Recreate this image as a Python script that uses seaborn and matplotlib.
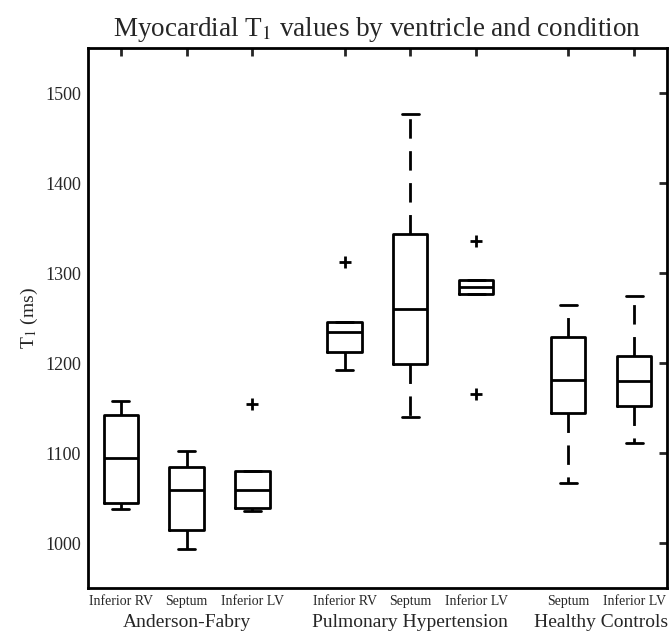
import pandas as pd
import matplotlib
matplotlib.use("Agg")
import matplotlib.pyplot as plt
import matplotlib.transforms as mtransforms
import seaborn as sns

# Conditions and the regions measured in each (plot order)
conditions = ["Anderson-Fabry", "Pulmonary Hypertension", "Healthy Controls"]
af_regions = ["Inferior RV", "Septum", "Inferior LV"]
ph_regions = ["Inferior RV", "Septum", "Inferior LV"]
hc_regions = ["Septum", "Inferior LV"]

# T1 values (ms): whisker ends, quartiles, median, outliers
af_inferior_rv = [1038, 1045, 1095, 1142, 1158]
af_septum = [993, 1014, 1059, 1085, 1102]
af_inferior_lv = [1036, 1039, 1059, 1080, 1154]
ph_inferior_rv = [1192, 1212, 1235, 1246, 1312]
ph_septum = [1140, 1199, 1260, 1343, 1477]
ph_inferior_lv = [1166, 1277, 1285, 1292, 1336]
hc_septum = [1067, 1145, 1181, 1229, 1265]
hc_inferior_lv = [1111, 1152, 1180, 1208, 1275]

ylabels = [1000, 1100, 1200, 1300, 1400, 1500]

boxes = [
    (conditions[0], af_regions, [af_inferior_rv, af_septum, af_inferior_lv]),
    (conditions[1], ph_regions, [ph_inferior_rv, ph_septum, ph_inferior_lv]),
    (conditions[2], hc_regions, [hc_septum, hc_inferior_lv]),
]

# build long table, leaving a gap between the condition groups
rows = []
tick_pos, tick_lab, group_centre = [], [], []
pos = 1.0
for cond, regs, vals in boxes:
    start = pos
    for reg, v in zip(regs, vals):
        for t in v:
            rows.append({"condition": cond, "region": reg, "pos": pos, "t1": t})
        tick_pos.append(pos)
        tick_lab.append(reg)
        pos += 1.0
    group_centre.append((start + pos - 1.0) / 2)
    pos += 0.4
df = pd.DataFrame(rows)

sns.set_style("white")
plt.rcParams["font.family"] = ["Liberation Serif", "DejaVu Serif"]
plt.rcParams["mathtext.fontset"] = "stix"

fig = plt.figure(figsize=(6.71, 6.33), dpi=100)
ax = fig.add_axes([0.131, 0.071, 0.863, 0.853])

sns.boxplot(
    data=df, x="pos", y="t1", orient="x", native_scale=True,
    width=0.52, fill=False, color="black", linecolor="black", linewidth=2,
    whis=1.5, fliersize=8,
    flierprops=dict(marker="+", markeredgewidth=2, markeredgecolor="black"),
    whiskerprops=dict(linestyle=(0, (7, 4.5))),
    ax=ax,
)

ax.set_xlim(0.5, 9.3)
ax.set_ylim(950, 1550)
ax.set_xticks(tick_pos)
ax.set_xticklabels(tick_lab, fontsize=10)
ax.set_yticks(ylabels)
ax.set_yticklabels([str(v) for v in ylabels], fontsize=13)
ax.tick_params(direction="in", length=6, width=2, top=True, right=True, pad=5)
ax.tick_params(axis="x", pad=5)
for s in ax.spines.values():
    s.set_visible(True)
    s.set_linewidth(2)
    s.set_color("black")

ax.set_xlabel("")
ax.set_ylabel("T$_1$ (ms)", fontsize=14, labelpad=4)
ax.set_title("Myocardial T$_1$ values by ventricle and condition", fontsize=19.5, pad=9)

# condition names under the region labels
trans = mtransforms.blended_transform_factory(ax.transData, fig.transFigure)
for c, name in zip(group_centre, conditions):
    ax.text(c, 2 / 633, name, transform=trans, ha="center", va="bottom", fontsize=14)

fig.savefig("out.png", dpi=100)
